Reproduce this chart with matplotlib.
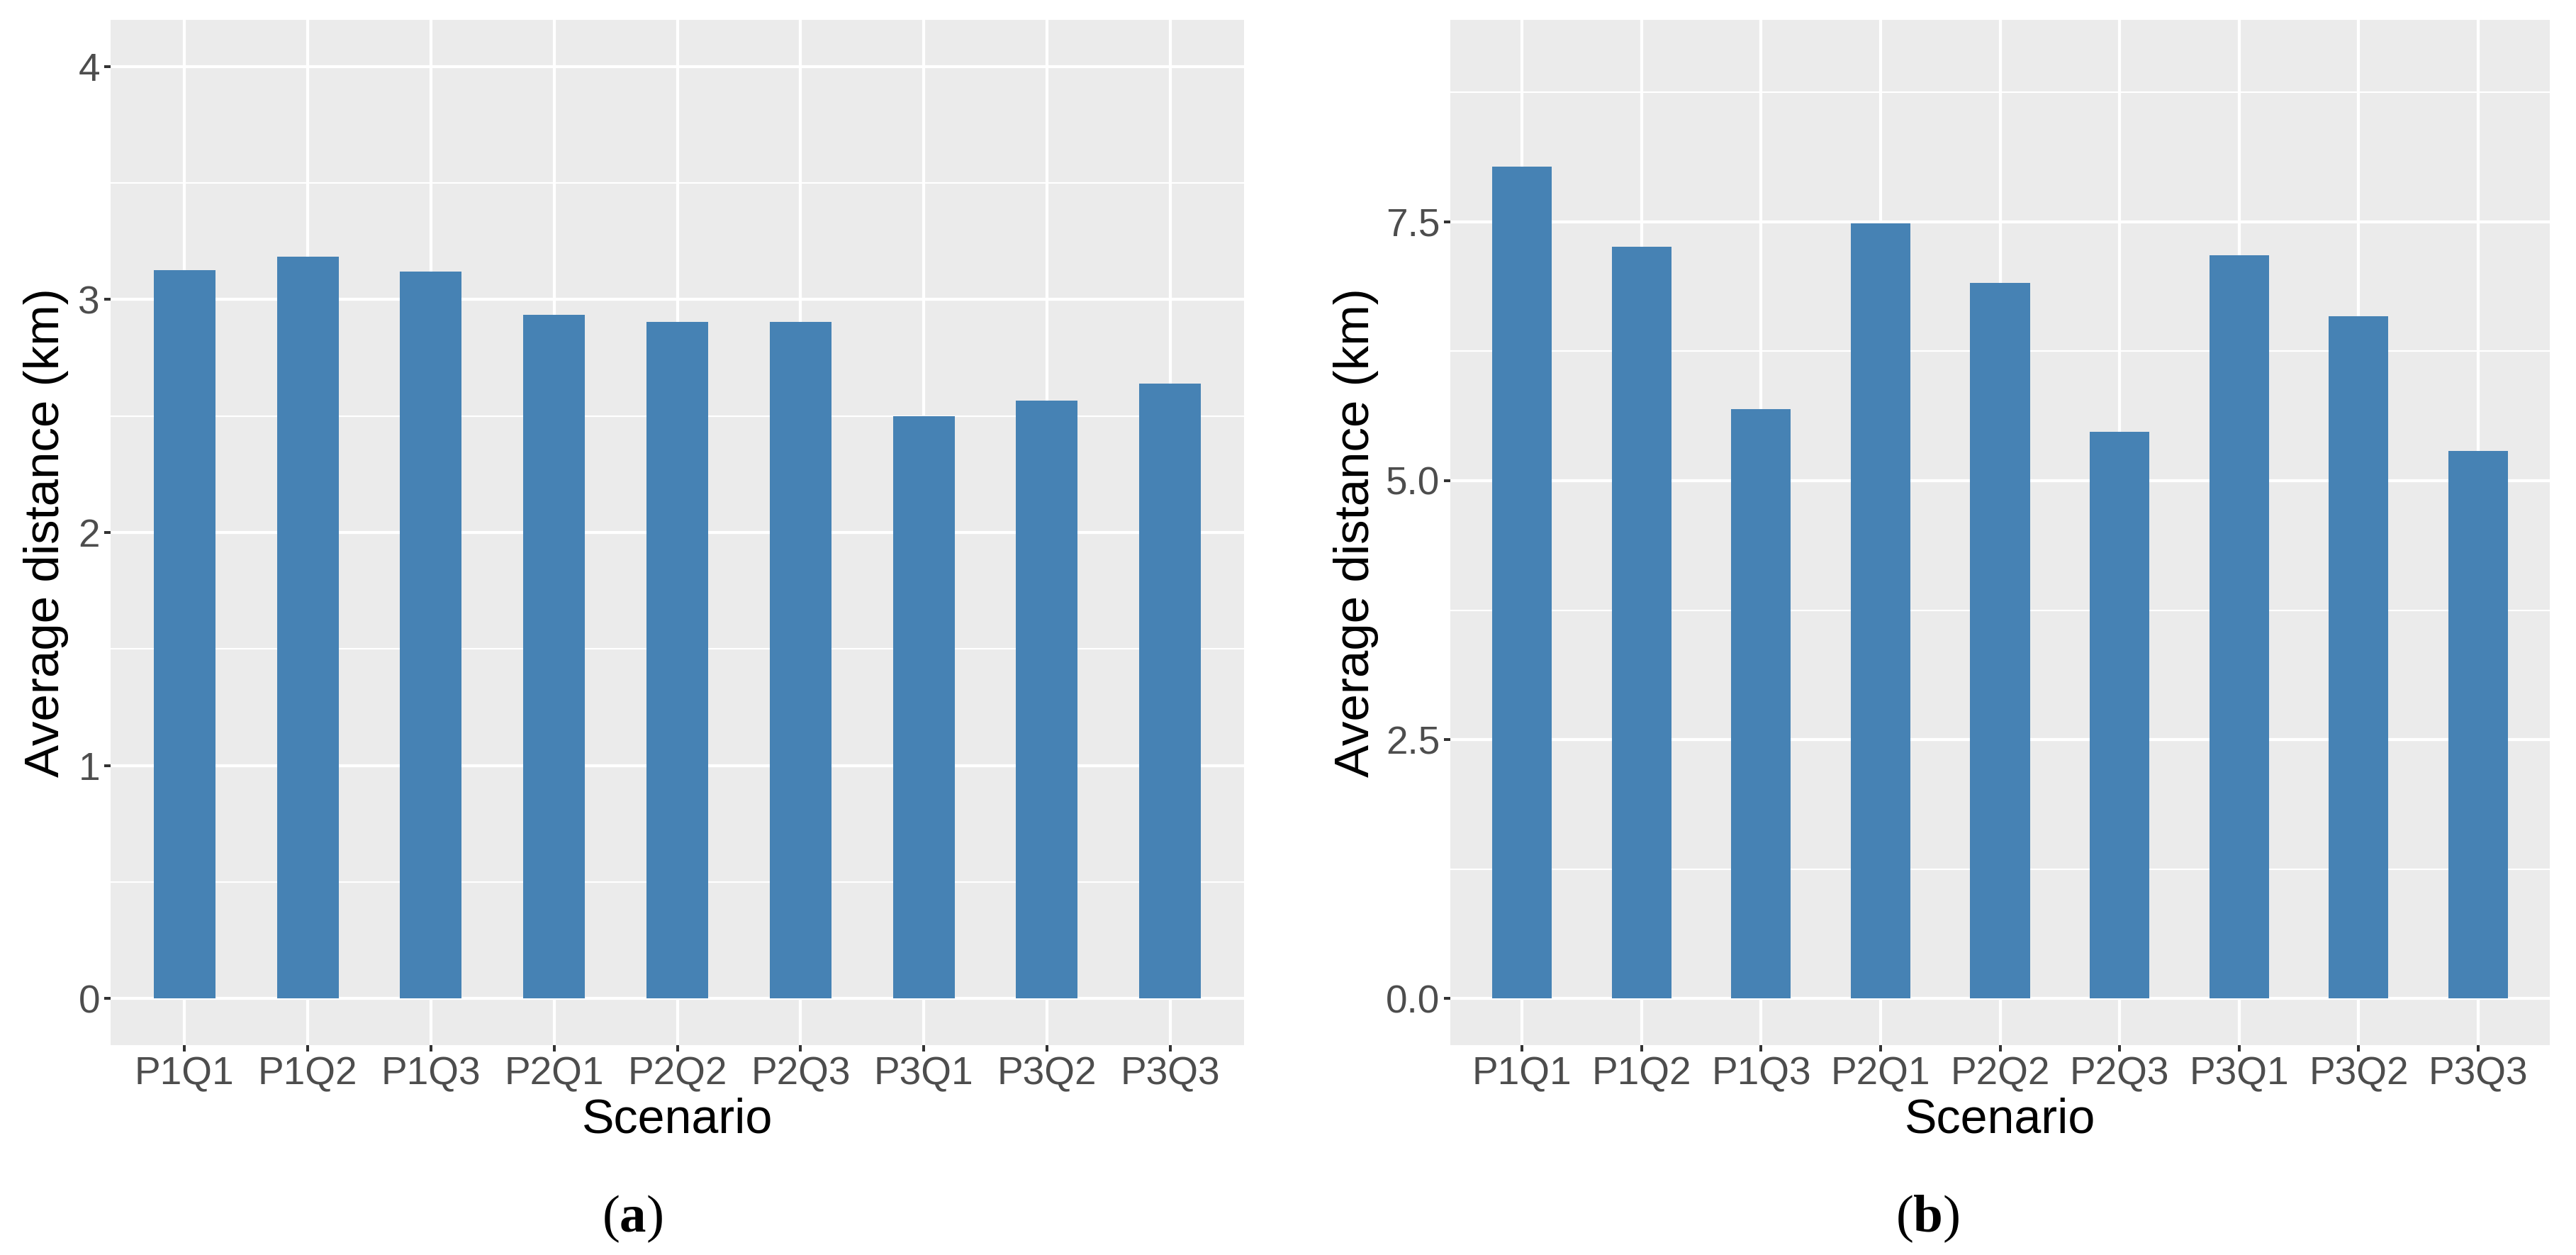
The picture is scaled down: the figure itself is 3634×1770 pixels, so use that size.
import matplotlib
matplotlib.use("Agg")
import matplotlib.pyplot as plt
from matplotlib.ticker import FixedLocator

scenarios = ["P1Q1", "P1Q2", "P1Q3", "P2Q1", "P2Q2", "P2Q3", "P3Q1", "P3Q2", "P3Q3"]
dist_a = [3.125, 3.185, 3.12, 2.935, 2.905, 2.905, 2.50, 2.565, 2.64]
dist_b = [8.03, 7.26, 5.69, 7.485, 6.91, 5.47, 7.18, 6.59, 5.29]
yticks_a = [0, 1, 2, 3, 4]
yminor_a = [0.5, 1.5, 2.5, 3.5]
yticks_b = [0.0, 2.5, 5.0, 7.5]
yminor_b = [1.25, 3.75, 6.25, 8.75]
ylim_a = (0, 4)
ylim_b = (0, 9)
captions = ["a", "b"]

W, H, DPI = 3634, 1770, 300
plt.rcParams["font.family"] = ["Liberation Sans", "DejaVu Sans"]
plt.rcParams["mathtext.fontset"] = "custom"
plt.rcParams["mathtext.rm"] = "Liberation Serif"
plt.rcParams["mathtext.bf"] = "Liberation Serif:bold"
fig = plt.figure(figsize=(W / DPI, H / DPI), dpi=DPI)

px = lambda p: p * 72.0 / DPI  # pixels -> points

def panel(rect, vals, yt, ym, ylim, ylab_x, fmt):
    ax = fig.add_axes(rect)
    ax.set_facecolor("#EBEBEB")
    for s in ax.spines.values():
        s.set_visible(False)
    x = list(range(len(scenarios)))
    lo, hi = ylim
    span = hi - lo
    ax.set_ylim(lo - 0.05 * span, hi + 0.05 * span)
    ax.set_xlim(-0.6, len(scenarios) - 1 + 0.6)
    ax.yaxis.set_major_locator(FixedLocator(yt))
    ax.yaxis.set_minor_locator(FixedLocator(ym))
    ax.set_yticklabels([fmt(v) for v in yt])
    ax.set_xticks(x)
    ax.set_xticklabels(scenarios)
    ax.set_axisbelow(True)
    ax.grid(which="major", axis="both", color="white", linewidth=px(4.2))
    ax.grid(which="minor", axis="y", color="white", linewidth=px(2.1))
    ax.bar(x, vals, width=0.5, color="#4682B4", zorder=2)
    ax.tick_params(axis="both", which="major", length=px(9), width=px(4),
                   color="#333333", labelcolor="#4D4D4D", labelsize=13.2, pad=px(6))
    ax.tick_params(axis="y", which="minor", length=0)
    ax.set_ylabel("Average distance (km)", fontsize=16.6, color="black")
    ax.yaxis.label.set_verticalalignment("baseline")
    ax.yaxis.set_label_coords(ylab_x, 0.5)
    ax.set_xlabel("Scenario", fontsize=16.4, color="black")
    ax.xaxis.set_label_coords(0.5, (1474 - 1597) / 1446.0)
    ax.xaxis.label.set_verticalalignment("baseline")
    return ax

y0 = 1 - 1474 / H
hgt = (1474 - 28) / H
axa = panel([156 / W, y0, (1755 - 156) / W, hgt], dist_a, yticks_a, yminor_a, ylim_a,
            (83 - 156) / 1599.0, lambda v: f"{v:g}")
axb = panel([2046 / W, y0, (3597 - 2046) / W, hgt], dist_b, yticks_b, yminor_b, ylim_b,
            (1931 - 2046) / 1551.0, lambda v: f"{v:.1f}")

for cx, cap in zip([892, 2719], captions):
    fig.text(cx / W, 1 - 1737 / H, r"$\mathrm{(}\mathbf{" + cap + r"}\mathrm{)}$", ha="center",
             va="baseline", fontsize=18)

fig.savefig("out.png", dpi=DPI)
